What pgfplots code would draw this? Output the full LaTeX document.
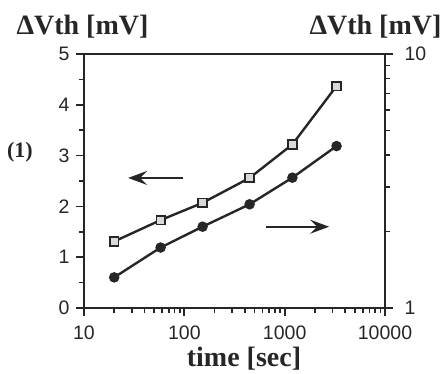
\documentclass[border=0pt]{standalone}
\usepackage{fontspec}
\setmainfont{Liberation Serif}
\setsansfont{Liberation Sans}
\usepackage{pgfplots}
\pgfplotsset{compat=1.18}
\usetikzlibrary{arrows.meta}
\definecolor{ink}{HTML}{262626}
\begin{document}
\begin{tikzpicture}
\path[use as bounding box] (-84pt,-66pt) rectangle (360pt,308pt);
\begin{axis}[
  at={(0pt,0pt)}, anchor=south west, scale only axis,
  width=301pt, height=254pt,
  xmode=log, xmin=10, xmax=10000,
  tick align=outside,
  major tick length=8pt, minor tick length=5pt,
  axis line style={ink, line width=2pt},
  every tick/.style={ink, line width=1.7pt},
  /pgf/number format/assume math mode=true,
  ticklabel style={font=\fontsize{19.5}{19.5}\selectfont\sffamily, text=ink},
  xticklabel style={yshift=-6pt},
  yticklabel style={xshift=-3pt},
  ymin=0, ymax=5,
  xtick={10,100,1000,10000}, xticklabels={10,100,1000,10000},
  minor xtick={20,30,40,50,60,70,80,90,200,300,400,500,600,700,800,900,2000,3000,4000,5000,6000,7000,8000,9000},
  ytick={0,1,2,3,4,5}, yticklabels={0,1,2,3,4,5},
  minor ytick={0.5,1.5,2.5,3.5,4.5},
  xtick pos=bottom, ytick pos=left,
]
\addplot[ink, line width=2.4pt, mark=square*, mark size=4.3pt,
  mark options={fill=gray!30, draw=ink, line width=1.6pt}]
  coordinates {(20,1.31) (58,1.73) (152,2.07) (447,2.56) (1194,3.22) (3289,4.37)};
\draw[ink, line width=2pt, -{Stealth[length=19pt,width=14pt,inset=7pt]}] (axis cs:98,2.56) -- (axis cs:27.5,2.56);
\draw[ink, line width=2pt, -{Stealth[length=19pt,width=14pt,inset=7pt]}] (axis cs:656,1.60) -- (axis cs:2773,1.60);
\end{axis}
\begin{axis}[
  at={(0pt,0pt)}, anchor=south west, scale only axis,
  width=301pt, height=254pt,
  xmode=log, xmin=10, xmax=10000,
  tick align=outside,
  major tick length=8pt, minor tick length=5pt,
  axis line style={ink, line width=2pt},
  every tick/.style={ink, line width=1.7pt},
  /pgf/number format/assume math mode=true,
  ticklabel style={font=\fontsize{19.5}{19.5}\selectfont\sffamily, text=ink},
  yticklabel style={xshift=8pt},
  hide x axis, axis y line*=right,
  ymode=log, ymin=1, ymax=10,
  ytick={1,10}, yticklabels={1,10},
  minor ytick={2,3,4,5,6,7,8,9},
]
\addplot[ink, line width=2.4pt, mark=*, mark size=4pt,
  mark options={fill=ink, draw=ink}]
  coordinates {(20,1.32) (58,1.73) (152,2.09) (447,2.56) (1194,3.26) (3289,4.34)};
\end{axis}
\node[font=\fontsize{28}{28}\selectfont\bfseries, text=ink] at (-1.5pt,281pt) {ΔVth [mV]};
\node[font=\fontsize{28}{28}\selectfont\bfseries, text=ink] at (291.5pt,281pt) {ΔVth [mV]};
\node[font=\fontsize{28}{28}\selectfont\bfseries, text=ink] at (160pt,-51pt) {time [sec]};
\node[font=\fontsize{22}{22}\selectfont\bfseries, text=ink] at (-64pt,156pt) {(1)};
\end{tikzpicture}
\end{document}
